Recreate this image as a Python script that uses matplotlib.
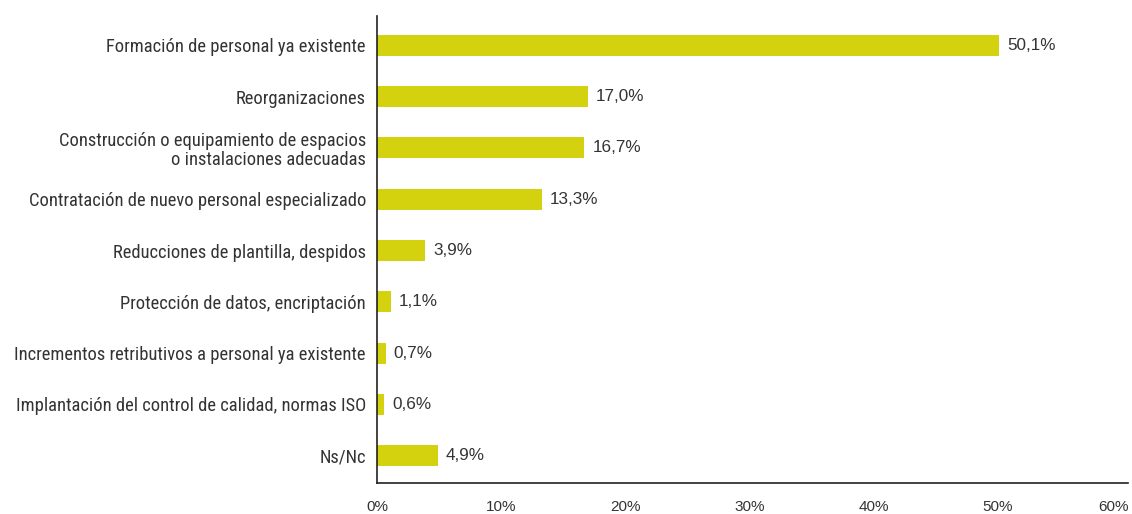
import matplotlib

matplotlib.use("Agg")
import matplotlib.pyplot as plt
from matplotlib.transforms import ScaledTranslation

categories = [
    "Formación de personal ya existente",
    "Reorganizaciones",
    "Construcción o equipamiento de espacios\no instalaciones adecuadas",
    "Contratación de nuevo personal especializado",
    "Reducciones de plantilla, despidos",
    "Protección de datos, encriptación",
    "Incrementos retributivos a personal ya existente",
    "Implantación del control de calidad, normas ISO",
    "Ns/Nc",
]
values = [50.1, 17.0, 16.7, 13.3, 3.9, 1.1, 0.7, 0.6, 4.9]
xticks = [0, 10, 20, 30, 40, 50, 60]

condensed = ["Roboto Condensed", "Liberation Sans Narrow", "DejaVu Sans"]
regular = ["Liberation Sans", "DejaVu Sans"]
text_color = "#333333"
bar_color = "#d4d20e"

fig = plt.figure(figsize=(11.32, 5.14), dpi=100)
ax = fig.add_axes([377 / 1132, 1 - 483 / 514, (1128 - 377) / 1132, (483 - 16) / 514])

y = list(range(len(categories)))
ax.barh(y, values, height=0.41, color=bar_color, zorder=2)
for yi, v in zip(y, values):
    ax.text(v + 0.65, yi, f"{v:.1f}%".replace(".", ","), va="center", ha="left",
            fontsize=12.3, color=text_color, family=regular)

ax.set_xlim(0, 60.5)
ax.set_ylim(len(categories) - 0.47, -0.57)
ax.set_yticks(y)
ax.set_yticklabels(categories, fontsize=13.3, color=text_color, ha="right",
                   linespacing=1.05, family=condensed)
ax.set_xticks(xticks)
ax.set_xticklabels([f"{t}%" for t in xticks], fontsize=11, color=text_color, family=regular)
ax.tick_params(axis="both", length=0)
ax.tick_params(axis="x", pad=12)
ax.tick_params(axis="y", pad=8)
for side in ("top", "right"):
    ax.spines[side].set_visible(False)
for side in ("left", "bottom"):
    ax.spines[side].set_color("#222222")
    ax.spines[side].set_linewidth(1.2)

# keep the last tick label inside the figure, as in the reference
last = ax.get_xticklabels()[-1]
last.set_horizontalalignment("right")
last.set_transform(last.get_transform() + ScaledTranslation(7 / 100, 0, fig.dpi_scale_trans))

fig.savefig("out.png", dpi=100)
plt.close(fig)
